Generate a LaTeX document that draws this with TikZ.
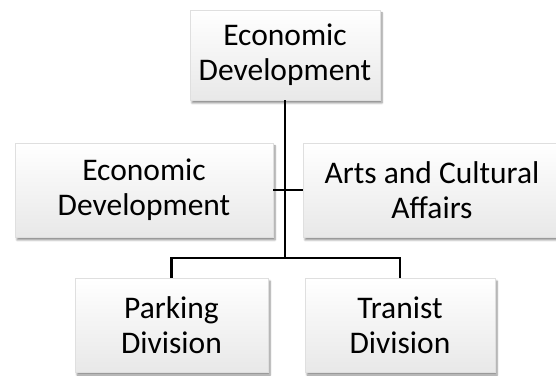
\documentclass[tikz,border=0pt]{standalone}
\usepackage{fontspec}
\setmainfont{Carlito}
\usetikzlibrary{positioning,shadows.blur}

\begin{document}
\begin{tikzpicture}[x=1pt,y=1pt,node distance=135pt,on grid,
	unit/.style={rectangle,draw=gray!25,line width=0.4pt,top color=white,bottom color=gray!18,
		blur shadow={shadow xshift=2pt,shadow yshift=-3pt,shadow blur steps=6,shadow opacity=45},
		minimum width=#1,minimum height=94pt,inner sep=0pt,align=center,
		font=\fontsize{31.5}{35}\selectfont},
	unit/.default=258pt,
	link/.style={draw=black,line width=2.2pt}]
			\clip (0,0) rectangle (556,375);
			\node[unit=190pt,minimum height=90pt](top) at (285,320) {Economic\\Development};
			\node[unit](econ)[below left=135pt and 141pt of top] {Economic\\Development};
			\node[unit](arts)[below right=135pt and 147pt of top] {Arts and Cultural\\Affairs};
			\node[unit=193pt](park)[below left=270pt and 113.5pt of top] {Parking\\Division};
			\node[unit=190pt](tran)[below right=270pt and 115pt of top] {Tranist\\Division};
			\coordinate (fork) at (285,117);
			\path[link]
			(top) -- (fork)
			(econ.east) -- (econ.east -| fork)
			(arts.west) -- (arts.west -| fork)
			(park.north) |- (fork) -| (tran.north);
			\end{tikzpicture}
\end{document}
